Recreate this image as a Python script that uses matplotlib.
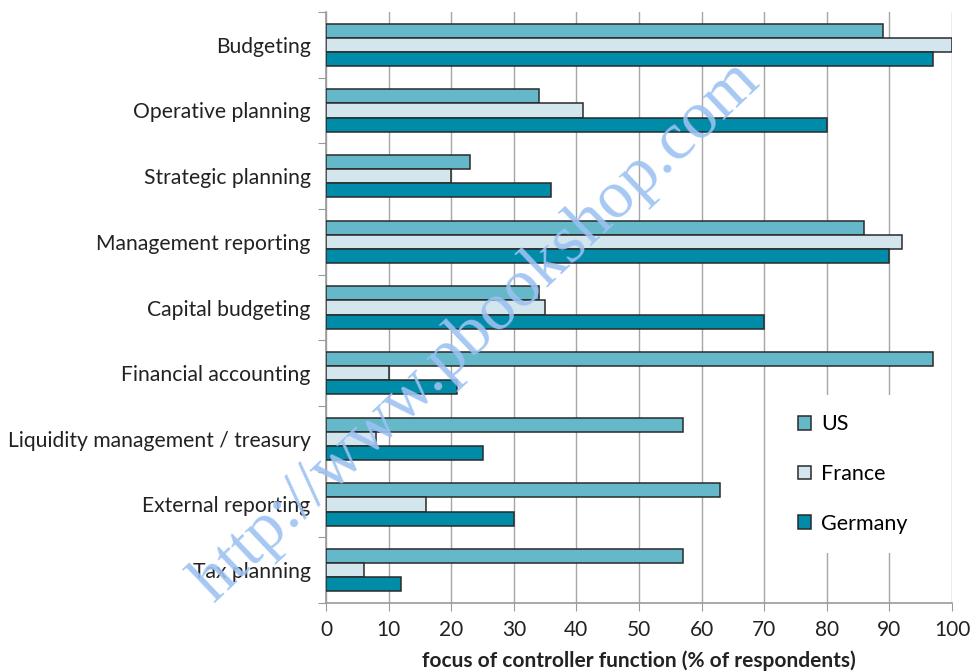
import numpy as np
import matplotlib.pyplot as plt
from matplotlib.patches import Patch

plt.rcParams['font.family'] = ['Lato', 'DejaVu Sans']

# data (% of respondents)
categories = ['Budgeting', 'Operative planning', 'Strategic planning',
              'Management reporting', 'Capital budgeting', 'Financial accounting',
              'Liquidity management / treasury', 'External reporting', 'Tax planning']
us = [89, 34, 23, 86, 34, 97, 57, 63, 57]
france = [100, 41, 20, 92, 35, 10, 8, 16, 6]
germany = [97, 80, 36, 90, 70, 21, 25, 30, 12]

series = ['US', 'France', 'Germany']
colors = ['#64B8CA', '#D3E6EE', '#008BA8']

fig = plt.figure(figsize=(9.79, 6.72), dpi=100)
ax = fig.add_axes([326 / 979, 69 / 672, 626 / 979, 591 / 672])

y = np.arange(len(categories))
h = 0.215
for k, (vals, col, lab) in enumerate(zip([us, france, germany], colors, series)):
    ax.barh(y + (k - 1) * h, vals, height=h, color=col, edgecolor='#2a2a2a',
            linewidth=1.1, label=lab, zorder=3)

ax.set_xlim(0, 100)
ax.set_ylim(len(categories) - 0.5, -0.5)

ax.set_xticks(np.arange(0, 101, 10))
ax.tick_params(axis='x', length=6, color='#9a9a9a', labelsize=15, labelcolor='#222222', pad=6)
ax.grid(axis='x', color='#a6a6a6', linewidth=1, zorder=0)

ax.set_yticks(np.arange(-0.5, len(categories), 1))
ax.set_yticklabels([])
ax.set_yticks(y, minor=True)
ax.set_yticklabels(categories, minor=True)
ax.tick_params(axis='y', which='major', length=6, color='#9a9a9a')
ax.tick_params(axis='y', which='minor', length=0, labelsize=15.2, labelcolor='#222222', pad=11)

for s in ['top', 'right']:
    ax.spines[s].set_visible(False)
for s in ['left', 'bottom']:
    ax.spines[s].set_color('#9a9a9a')
    ax.spines[s].set_linewidth(1.2)

ax.set_xlabel('focus of controller function (% of respondents)', fontsize=15,
              fontweight='bold', color='#222222', labelpad=8)

handles = [Patch(facecolor=c, edgecolor='#2a2a2a', linewidth=1.1) for c in colors]
leg = ax.legend(handles, series, loc='lower right', bbox_to_anchor=(0.977, 0.066),
                fontsize=15.5, frameon=True, labelspacing=1.38, handlelength=0.6,
                handleheight=0.6, handletextpad=0.45, borderpad=0.9)
leg.get_frame().set_edgecolor('none')
leg.get_frame().set_facecolor('white')
leg.get_frame().set_alpha(1)
leg.set_zorder(5)

# watermark
fig.text(476 / 979, 1 - 332 / 672, 'http://www.pbookshop.com', rotation=43.5,
         ha='center', va='center', fontsize=49, color='#9CC2F2', alpha=0.9,
         family='Liberation Serif', zorder=10)

fig.savefig('out.png', dpi=100)
